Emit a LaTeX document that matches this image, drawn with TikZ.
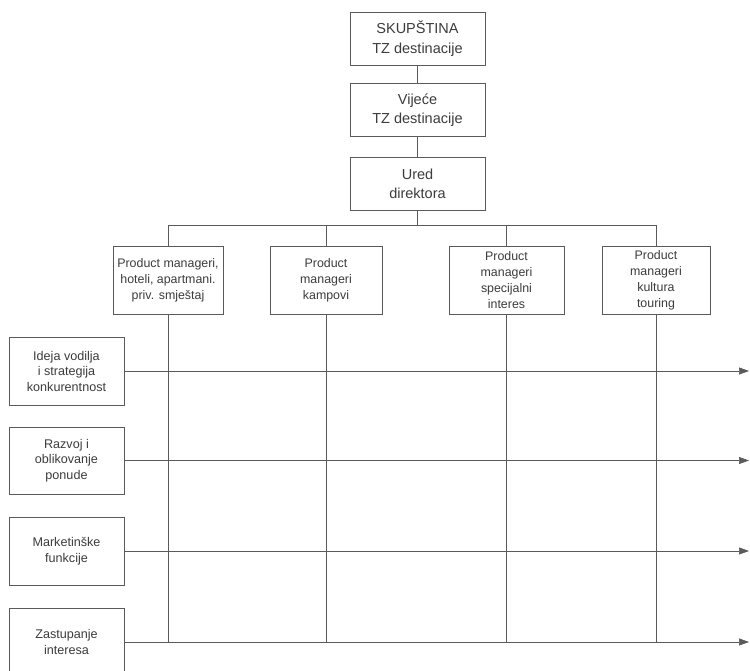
\documentclass[tikz,border=0pt]{standalone}
\usepackage{fontspec}
\setmainfont{Liberation Sans}
\usetikzlibrary{arrows.meta}
\definecolor{ln}{HTML}{5A5A5A}
\definecolor{tx}{HTML}{3C3C3C}
\tikzset{
  topbox/.style={draw=ln, line width=0.7pt, minimum width=135pt, minimum height=53pt, align=center, text=tx, inner sep=0pt, font=\fontsize{14.5}{19.5}\selectfont},
  pmbox/.style={draw=ln, line width=0.7pt, minimum height=68pt, align=center, text=tx, inner sep=0pt, font=\fontsize{12.4}{16}\selectfont},
  funbox/.style={draw=ln, line width=0.7pt, minimum width=115pt, minimum height=68pt, align=center, text=tx, inner sep=0pt, font=\fontsize{12.6}{15.5}\selectfont},
  conn/.style={draw=ln, line width=0.7pt},
  arr/.style={conn, -{Triangle[length=10pt,width=7pt]}}
}
\begin{document}
\begin{tikzpicture}[x=1pt,y=-1pt]
\clip (0,0) rectangle (750,671);
\fill[white] (0,0) rectangle (750,671);
% top chain
\node[topbox] (sk) at (417.5,38.5) {SKUPŠTINA\\TZ destinacije};
\node[topbox] (vi) at (417.5,110) {Vijeće\\TZ destinacije};
\node[topbox] (ur) at (417.5,184) {Ured\\direktora};
% product managers
\node[pmbox, minimum width=110pt] (p1) at (168,280) {Product manageri,\\hoteli, apartmani.\\priv. smještaj};
\node[pmbox, minimum width=112pt] (p2) at (326,280) {Product\\manageri\\kampovi};
\node[pmbox, minimum width=115pt] (p3) at (506.5,280) {Product\\manageri\\specijalni\\interes};
\node[pmbox, minimum width=108pt] (p4) at (656,280) {Product\\manageri\\kultura\\touring};
% functions
\node[funbox] (f1) at (66.5,371) {Ideja vodilja\\i strategija\\konkurentnost};
\node[funbox, minimum height=67pt] (f2) at (66.5,460.5) {Razvoj i\\oblikovanje\\ponude};
\node[funbox] (f3) at (66.5,551) {Marketinške\\funkcije};
\node[funbox] (f4) at (66.5,642) {Zastupanje\\interesa};
\coordinate (bus) at (0,225);
\coordinate (tip) at (749,0);
% connectors top
\draw[conn] (sk.south) -- (vi.north);
\draw[conn] (vi.south) -- (ur.north);
\draw[conn] (ur.south) -- (ur.south |- bus);
\draw[conn] (p1.north) -- (p1.north |- bus) -- (p4.north |- bus) -- (p4.north);
\draw[conn] (p2.north) -- (p2.north |- bus);
\draw[conn] (p3.north) -- (p3.north |- bus);
% verticals down
\draw[conn] (p1.south) -- (p1.south |- f4.east);
\draw[conn] (p2.south) -- (p2.south |- f4.east);
\draw[conn] (p3.south) -- (p3.south |- f4.east);
\draw[conn] (p4.south) -- (p4.south |- f4.east);
% arrows
\draw[arr] (f1.east) -- (f1.east -| tip);
\draw[arr] (f2.east) -- (f2.east -| tip);
\draw[arr] (f3.east) -- (f3.east -| tip);
\draw[arr] (f4.east) -- (f4.east -| tip);
\end{tikzpicture}
\end{document}
